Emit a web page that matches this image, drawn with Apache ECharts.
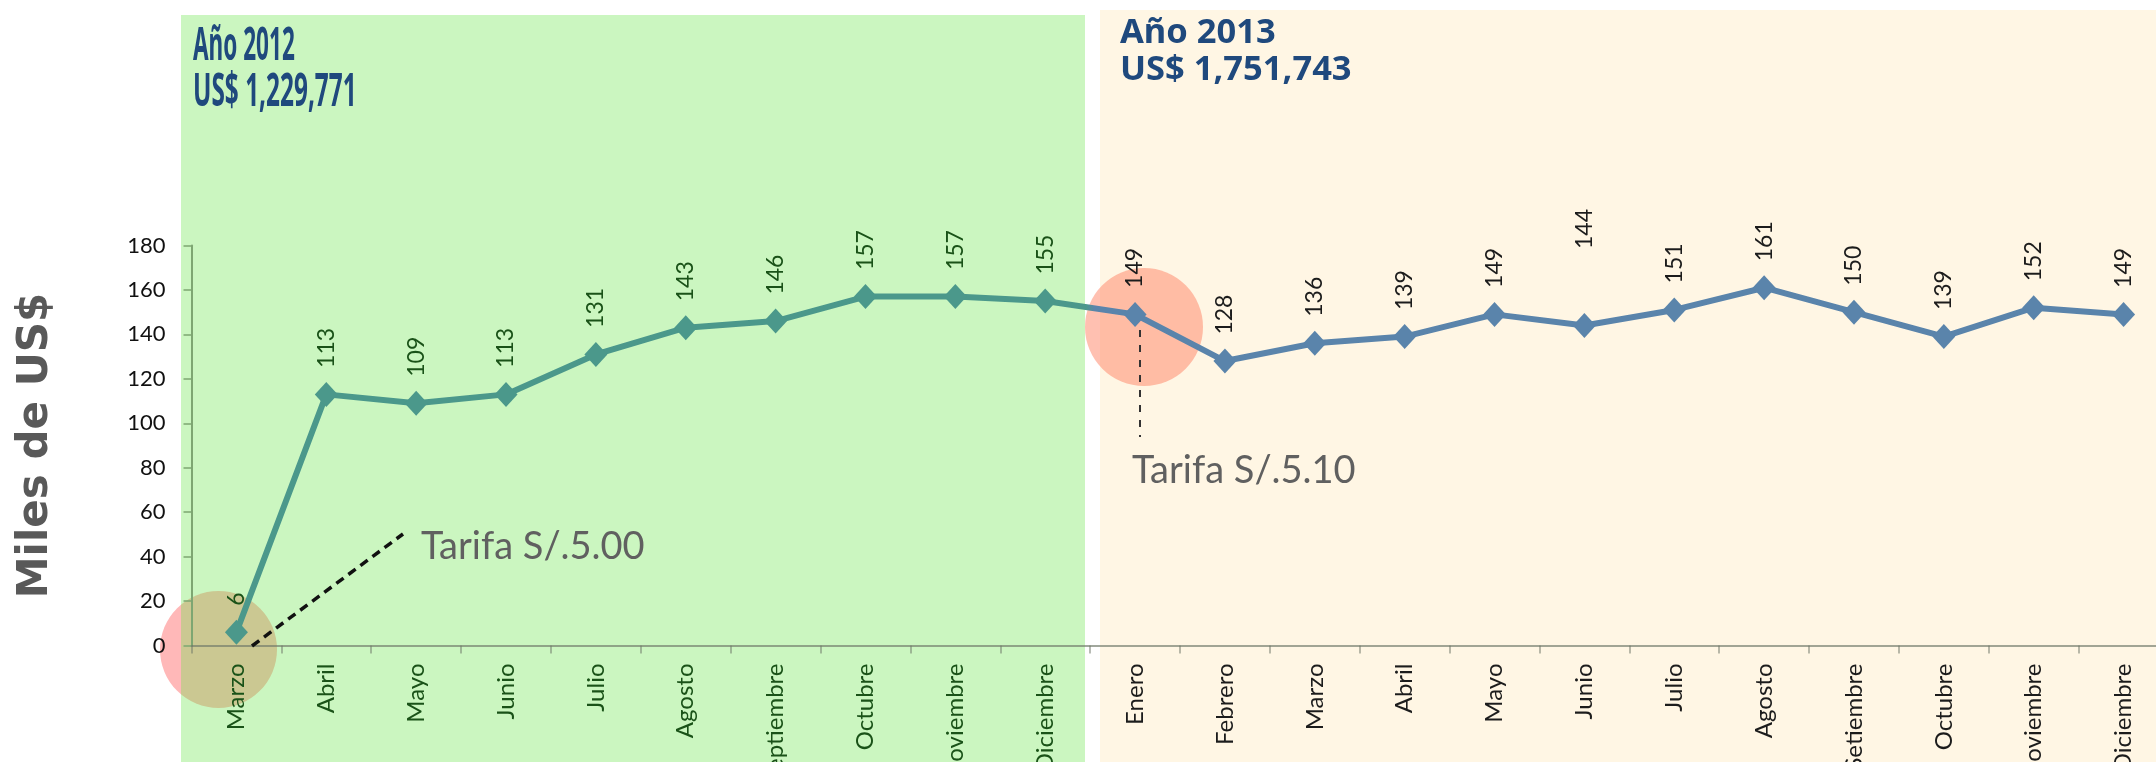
<!DOCTYPE html>
<html><head><meta charset="utf-8">
<script src="https://cdn.jsdelivr.net/npm/echarts@6/dist/echarts.min.js"></script>
<style>html,body{margin:0;padding:0;background:#fff}#c{width:2156px;height:762px}</style>
</head><body><div id="c"></div>
<script>
const categories2012 = ['Marzo','Abril','Mayo','Junio','Julio','Agosto','Septiembre','Octubre','Noviembre','Diciembre'];
const categories2013 = ['Enero','Febrero','Marzo','Abril','Mayo','Junio','Julio','Agosto','Setiembre','Octubre','Noviembre','Diciembre'];
const values2012 = [6,113,109,113,131,143,146,157,157,155];
const values2013 = [149,128,136,139,149,144,151,161,150,139,152,149];
const yMin = 0, yMax = 180, yStep = 20;
const title2012 = ['Año 2012','US$ 1,229,771'];
const title2013 = ['Año 2013','US$ 1,751,743'];
const notes = ['Tarifa S/.5.00','Tarifa S/.5.10'];

const GREEN_TXT = '#1a5218';
const DARK_TXT = '#1c1c1c';
const TEAL = '#4b988b';
const BLUE = '#5a84ab';
const TITLE = '#1f497d';

const W = 2156;
const gridLeft = 191.5, gridWidth = 1977;
const nCat = categories2012.length + categories2013.length;
const split = (gridLeft + gridWidth / nCat * categories2012.length) / W;

const xData = categories2012.map(c => ({value: c, textStyle: {color: GREEN_TXT}}))
  .concat(categories2013.map(c => ({value: c, textStyle: {color: DARK_TXT}})));
const sData = values2012.map(v => ({value: v, itemStyle: {color: TEAL}, label: {color: GREEN_TXT}}))
  .concat(values2013.map((v, i) => ({value: v, itemStyle: {color: BLUE}, label: {color: DARK_TXT, distance: i === 5 ? 64 : 14}})));

const chart = echarts.init(document.getElementById('c'));
chart.setOption({
  animation: false,
  grid: {left: gridLeft, top: 245.5, width: gridWidth, height: 400, containLabel: false, outerBoundsMode: 'none'},
  xAxis: {
    type: 'category', data: xData, boundaryGap: true,
    axisLine: {lineStyle: {color: 'rgba(110,120,105,0.65)', width: 2}},
    axisTick: {show: true, length: 8, lineStyle: {color: 'rgba(110,120,105,0.65)', width: 1.5}},
    axisLabel: {rotate: 90, margin: 18, fontFamily: 'Lato', fontSize: 24, interval: 0}
  },
  yAxis: {
    type: 'value', min: yMin, max: yMax, interval: yStep,
    name: 'Miles de US$', nameLocation: 'middle', nameRotate: 90, nameGap: 134,
    nameTextStyle: {fontFamily: 'DejaVu Sans', fontWeight: 'bold', fontSize: 42, color: '#595959'},
    axisLine: {show: true, lineStyle: {color: '#7ea672', width: 2}},
    axisTick: {show: true, length: 8, lineStyle: {color: '#7ea672', width: 1.5}},
    axisLabel: {margin: 26, fontFamily: 'Lato', fontSize: 22, color: '#111'},
    splitLine: {show: false}
  },
  series: [{
    type: 'line', data: sData, symbol: 'diamond', symbolSize: [23, 25],
    lineStyle: {width: 6, color: {type: 'linear', x: 0, y: 0, x2: W, y2: 0, global: true,
      colorStops: [{offset: 0, color: TEAL}, {offset: split - 0.002, color: TEAL},
                   {offset: split + 0.002, color: BLUE}, {offset: 1, color: BLUE}]}},
    label: {show: true, position: 'top', rotate: 90, align: 'left', verticalAlign: 'middle',
      distance: 14, fontFamily: 'Lato', fontSize: 23},
    z: 3
  }],
  graphic: [
    {type: 'circle', z: -12, shape: {cx: 218.5, cy: 649.5, r: 58.5}, style: {fill: '#ffb8b8'}},
    {type: 'rect', z: -10, shape: {x: 181, y: 15, width: 904, height: 747}, style: {fill: 'rgba(106,229,74,0.35)'}},
    {type: 'rect', z: -11, shape: {x: 1100, y: 10, width: 1056, height: 752}, style: {fill: '#fff6e4'}},
    {type: 'circle', z: -9, shape: {cx: 1144, cy: 327, r: 59}, style: {fill: 'rgba(255,130,100,0.5)'}},
    {type: 'line', z: 5, shape: {x1: 252, y1: 646, x2: 403, y2: 534}, style: {stroke: '#111', lineWidth: 3.5, lineDash: [9, 6]}},
    {type: 'line', z: 5, shape: {x1: 1140, y1: 330, x2: 1140, y2: 437}, style: {stroke: '#333', lineWidth: 2, lineDash: [7, 8]}},
    {type: 'text', z: 6, x: 421, y: 547, style: {text: notes[0], fill: '#606060', font: '38px Lato', align: 'left', verticalAlign: 'middle'}},
    {type: 'text', z: 6, x: 1132, y: 471, style: {text: notes[1], fill: '#606060', font: '38px Lato', align: 'left', verticalAlign: 'middle'}},
    {type: 'text', z: 6, x: 193, y: 47, scaleX: 0.49, style: {text: title2012[0], fill: TITLE, font: 'bold 46px "Noto Sans"', align: 'left', verticalAlign: 'middle'}},
    {type: 'text', z: 6, x: 193, y: 93, scaleX: 0.53, style: {text: title2012[1], fill: TITLE, font: 'bold 46px "Noto Sans"', align: 'left', verticalAlign: 'middle'}},
    {type: 'text', z: 6, x: 1120, y: 33, style: {text: title2013[0], fill: TITLE, font: 'bold 34.5px "Noto Sans"', align: 'left', verticalAlign: 'middle'}},
    {type: 'text', z: 6, x: 1120, y: 70, style: {text: title2013[1], fill: TITLE, font: 'bold 34.5px "Noto Sans"', align: 'left', verticalAlign: 'middle'}}
  ]
});
</script></body></html>
